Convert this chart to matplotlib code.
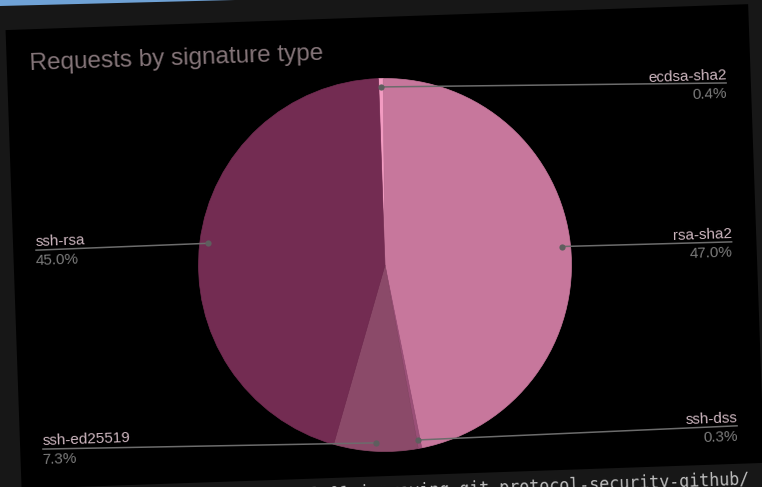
import matplotlib
matplotlib.use('Agg')
import matplotlib.pyplot as plt
from matplotlib.transforms import Affine2D
from matplotlib.patches import Polygon
import numpy as np

# ---- data ----
categories = ['ecdsa-sha2', 'rsa-sha2', 'ssh-dss', 'ssh-ed25519', 'ssh-rsa']
shares = [0.4, 47.0, 0.3, 7.3, 45.0]
pct_labels = ['0.4%', '47.0%', '0.3%', '7.3%', '45.0%']
title = 'Requests by signature type'
source_text = 'https://github.blog/2021-09-01-improving-git-protocol-security-github/'

# ---- style / layout ----
colors = ['#f29bc1', '#c7779c', '#9a4f77', '#8b4a69', '#732c52']
label_side = ['right', 'right', 'right', 'left', 'left']
label_x = [733, 733, 732, 36, 36]
label_y = [392, 233, 49, 50, 249]   # y-up pixel frame (unrotated)

W, H = 762, 487
CX, CY, R = 385, 222, 186.5
TILT = 2.0

fig = plt.figure(figsize=(W / 100, H / 100), dpi=100, facecolor='#171717')
ax = fig.add_axes([0, 0, 1, 1])
ax.set_facecolor('#171717')

rot = Affine2D().rotate_deg_around(CX, CY, TILT)
T = rot + ax.transData

# blue strip at very top-left (photo frame)
ax.add_patch(Polygon([(0, H), (235, H), (0, H - 6)], closed=True,
                     fc='#6fa2d6', ec='none', transform=ax.transData, zorder=0))

# black chart panel
ax.add_patch(Polygon([(14, 11), (757, 11), (757, 470), (14, 470)], closed=True,
                     fc='black', ec='none', transform=T, zorder=1))

wedges, _ = ax.pie(shares, colors=colors, startangle=90, counterclock=False,
                   center=(CX, CY), radius=R,
                   wedgeprops=dict(linewidth=0.5))
for w in wedges:
    w.set_edgecolor(w.get_facecolor())
    w.set_transform(T)
    w.set_zorder(2)

ax.set_xlim(0, W)
ax.set_ylim(0, H)
ax.set_aspect('equal')
ax.axis('off')

txt_kw = dict(family='Liberation Sans', transform=T, transform_rotates_text=True,
              rotation_mode='anchor', va='baseline', zorder=5)

for w, name, pct, side, lx, ly in zip(wedges, categories, pct_labels,
                                      label_side, label_x, label_y):
    mid = np.deg2rad((w.theta1 + w.theta2) / 2)
    dx = CX + 0.955 * R * np.cos(mid)
    dy = CY + 0.955 * R * np.sin(mid)
    ax.plot([dx, lx], [dy, ly], color='#6c6c6c', lw=1.1, transform=T, zorder=3,
            solid_capstyle='butt')
    ax.plot([dx], [dy], 'o', ms=4.5, color='#5e5e5e', mec='none', transform=T, zorder=4)
    ha = 'right' if side == 'right' else 'left'
    ax.text(lx, ly + 4, name, ha=ha, fontsize=11, color='#cdb6bf', **txt_kw)
    ax.text(lx, ly - 15, pct, ha=ha, fontsize=11, color='#7b7b7b', **txt_kw)

ax.text(37, 429.3, title, ha='left', fontsize=17.5, color='#857579', **txt_kw)

ax.text(742, -10, source_text, ha='right', fontsize=12, color='#bdbdbd',
        family='DejaVu Sans Mono', transform=T, transform_rotates_text=True,
        rotation_mode='anchor', va='baseline', zorder=5)

fig.savefig('out.png', dpi=100, facecolor=fig.get_facecolor())
